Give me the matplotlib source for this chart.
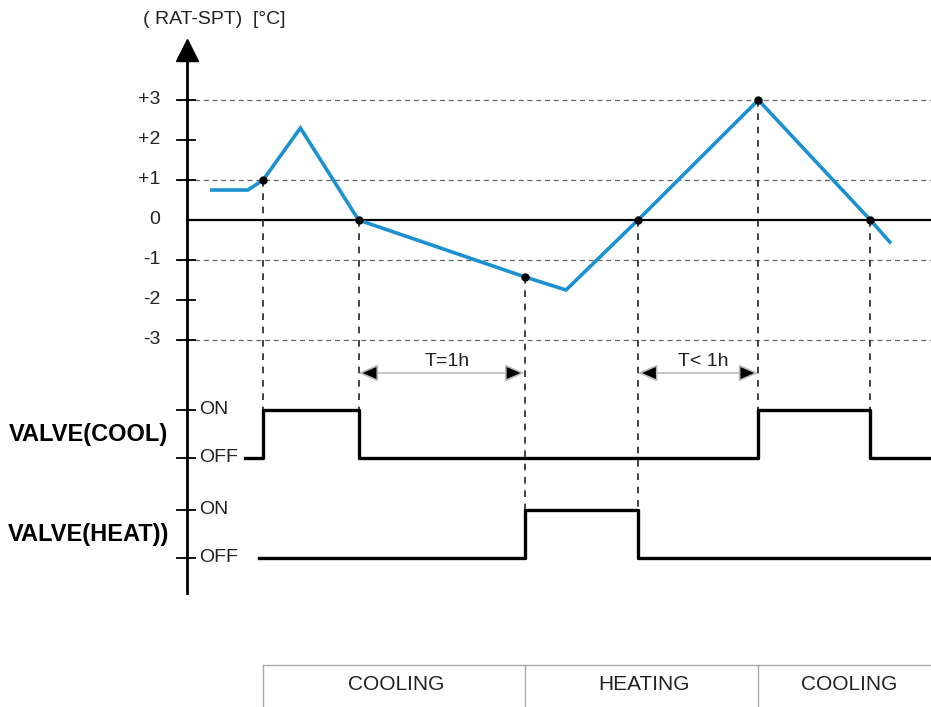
import matplotlib.pyplot as plt
import numpy as np

plt.rcParams['font.family'] = ['Liberation Sans', 'DejaVu Sans']

# time in minutes from the vertical axis, temperature difference in °C
line_time = [9, 22, 27.5, 41, 62, 122, 137, 163, 206.5, 247, 254]
line_temp = [0.75, 0.75, 1.0, 2.3, 0.0, -1.42, -1.75, 0.0, 3.0, 0.0, -0.55]

event_time = [27.5, 62, 122, 163, 206.5, 247]
event_temp = [1.0, 0.0, -1.42, 0.0, 3.0, 0.0]
event_valve = ['cool', 'cool', 'heat', 'heat', 'cool', 'cool']

temp_ticks = [3, 2, 1, 0, -1, -2, -3]
temp_labels = ['+3', '+2', '+1', '0', '-1', '-2', '-3']
grid_levels = [3, 1, -1, -3]

cool_time = [21, 27.5, 62, 206.5, 247, 270]
cool_state = [0, 1, 0, 1, 0, 0]
heat_time = [26, 122, 163, 270]
heat_state = [0, 1, 0, 0]

phase_edges = [27.5, 122, 206.5, 270]
phase_names = ['COOLING', 'HEATING', 'COOLING']

spans = [(62, 122, 'T=1h'), (163, 206.5, 'T< 1h')]

# layout of the lower part (in °C axis units)
valve_base = {'cool': -5.95, 'heat': -8.45}
valve_height = 1.2
blue = '#1b91d1'

fig = plt.figure(figsize=(9.31, 7.07), dpi=100)
ax = fig.add_axes([0, 0, 1, 1])
ax.set_xlim(-187 / 2.7667, (931 - 187) / 2.7667)
ax.set_ylim(-487 / 40, 220 / 40)
ax.axis('off')

# dashed grid
for lv in grid_levels:
    ax.plot([-3.6, 270], [lv, lv], color='#666666', lw=0.9, ls=(0, (4, 3)), zorder=1)

# zero line
ax.plot([0, 270], [0, 0], color='black', lw=1.6, zorder=2)

# vertical axis with arrow
ax.plot([0, 0], [-9.33, 4.1], color='black', lw=2, zorder=3)
ax.plot([0], [4.25], marker='^', ms=16, color='black', zorder=3)

# ticks and labels
for v, lab in zip(temp_ticks, temp_labels):
    if v != 0:
        ax.plot([-3.6, 2.9], [v, v], color='black', lw=1.3, zorder=3)
    ax.text(-9.6, v, lab, ha='right', va='center', fontsize=14, color='#222222')

for name in ['cool', 'heat']:
    for st, lab in [(1, 'ON'), (0, 'OFF')]:
        y = valve_base[name] + st * valve_height
        ax.plot([-3.6, 2.9], [y, y], color='black', lw=1.3, zorder=3)
        ax.text(4.5, y, lab, ha='left', va='center', fontsize=14, color='#222222')

ax.text(-16, 5.0, '( RAT-SPT)  [°C]', ha='left', va='center', fontsize=14, color='#222222')

# vertical dashed event lines
for t, v, name in zip(event_time, event_temp, event_valve):
    ax.plot([t, t], [v, valve_base[name] + valve_height], color='#222222',
            lw=1.2, ls=(0, (4, 4)), zorder=2)

# temperature curve
ax.plot(line_time, line_temp, color=blue, lw=2.6, solid_joinstyle='miter', zorder=4)
ax.plot(event_time, event_temp, 'o', color='black', ms=5, zorder=5)

# valve traces
ax.step(cool_time, np.array(cool_state) * valve_height + valve_base['cool'],
        where='post', color='black', lw=2.4, zorder=4)
ax.step(heat_time, np.array(heat_state) * valve_height + valve_base['heat'],
        where='post', color='black', lw=2.4, zorder=4)

ax.text(-64.3, valve_base['cool'] + valve_height / 2, 'VALVE(COOL)',
        ha='left', va='center', fontsize=17, fontweight='bold')
ax.text(-64.6, valve_base['heat'] + valve_height / 2, 'VALVE(HEAT))',
        ha='left', va='center', fontsize=17, fontweight='bold')

# time span arrows
for t0, t1, lab in spans:
    ax.annotate('', xy=(t1, -3.825), xytext=(t0, -3.825),
                arrowprops=dict(arrowstyle='<|-|>,head_length=0.8,head_width=0.35',
                                ec='#bbbbbb', fc='black', lw=1.2,
                                shrinkA=0, shrinkB=0, mutation_scale=15))
    ax.text((t0 + t1) / 2 + 2, -3.55, lab, ha='center', va='center', fontsize=14,
            color='#222222')

# phase table
tbl_top = -11.125
ax.plot([phase_edges[0], phase_edges[-1]], [tbl_top, tbl_top], color='#aaaaaa', lw=1)
for e in phase_edges[:-1]:
    ax.plot([e, e], [tbl_top, -12.3], color='#aaaaaa', lw=1)
for i, lab in enumerate(phase_names):
    ax.text((phase_edges[i] + phase_edges[i + 1]) / 2 + 1, -11.62, lab,
            ha='center', va='center', fontsize=15, color='#222222')

fig.savefig('out.png', dpi=100)
